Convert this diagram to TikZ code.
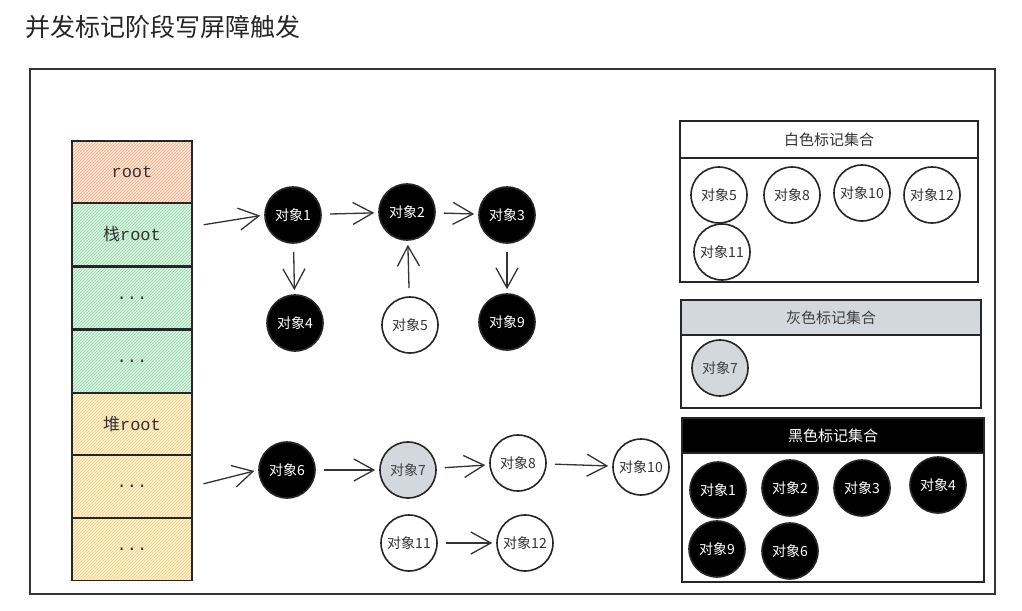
\documentclass[tikz,border=0pt]{standalone}
\usepackage{fontspec}
\setmainfont{Noto Sans CJK SC}
\newfontfamily\monof{Liberation Mono}
\usetikzlibrary{arrows.meta,patterns,calc}
\definecolor{orhatch}{HTML}{F2A97E}
\definecolor{orbg}{HTML}{FCE6D8}
\definecolor{grhatch}{HTML}{8ED7A6}
\definecolor{grbg}{HTML}{DDF3E3}
\definecolor{yehatch}{HTML}{F6CC78}
\definecolor{yebg}{HTML}{FDF0D3}
\definecolor{graynode}{HTML}{D3D7DE}
\tikzset{
  cell/.style={draw=black!85, line width=1.6pt, minimum width=120pt, minimum height=62pt, inner sep=0pt, font=\monof\fontsize{17}{17}\selectfont, text=black!80},
  orcell/.style={cell, preaction={fill=orbg}, pattern=north east lines, pattern color=orhatch},
  grcell/.style={cell, preaction={fill=grbg}, pattern=north east lines, pattern color=grhatch},
  yecell/.style={cell, preaction={fill=yebg}, pattern=north east lines, pattern color=yehatch},
  obj/.style={circle, draw=black!85, line width=1.6pt, minimum size=56pt, inner sep=0pt, font=\fontsize{14}{14}\selectfont},
  bobj/.style={obj, fill=black, text=white},
  wobj/.style={obj, fill=white, text=black!80},
  gobj/.style={obj, fill=graynode, text=black!75},
  arr/.style={line width=1.3pt, draw=black!80, shorten <=8pt, shorten >=4pt, arrows={-Straight Barb[length=20pt,width=22pt]}},
  panel/.style={draw=black!85, line width=1.5pt},
  header/.style={draw=black!85, line width=1.5pt, inner sep=0pt, font=\fontsize{15}{15}\selectfont},
}
\begin{document}
\begin{tikzpicture}[x=1pt,y=-1pt]
\useasboundingbox (0,0) rectangle (1022,610);
\fill[white] (0,0) rectangle (1022,610);
% title
\node[anchor=west, font=\fontsize{25}{25}\selectfont, text=black!85] (title) at (22,27) {并发标记阶段写屏障触发};
% outer frame
\draw[line width=1.6pt, draw=black!80] (30,69) rectangle (995,594);
% stack
\node[orcell] (s1) at (132,172) {root};
\node[grcell] (s2) at (132,234.5) {{\rmfamily 栈}root};
\node[grcell] (s3) at (132,298) {...};
\node[grcell] (s4) at (132,361.5) {...};
\node[yecell] (s5) at (132,424) {{\rmfamily 堆}root};
\node[yecell] (s6) at (132,486.5) {...};
\node[yecell] (s7) at (132,549.5) {...};
% object graph
\node[bobj] (o1) at (293,215) {对象1};
\node[bobj] (o2) at (407,212) {对象2};
\node[bobj] (o3) at (507,215) {对象3};
\node[bobj] (o4) at (295,323) {对象4};
\node[wobj] (o5) at (410,325) {对象5};
\node[bobj] (o9) at (507,322) {对象9};
\node[bobj] (o6) at (287,470) {对象6};
\node[gobj] (o7) at (408,470) {对象7};
\node[wobj] (o8) at (518,463) {对象8};
\node[wobj] (o10) at (641,467) {对象10};
\node[wobj] (o11) at (409,543) {对象11};
\node[wobj] (o12) at (525,543) {对象12};
\draw[arr, shorten <=11pt] ([yshift=8pt]s2.east) -- (o1.west);
\draw[arr, shorten <=11pt] (s6.east) -- (o6.west);
\draw[arr] (o1) -- (o2);
\draw[arr] (o2) -- (o3);
\draw[arr] (o1) -- (o4);
\draw[arr] (o5) -- (o2);
\draw[arr] (o3) -- (o9);
\draw[arr] (o6) -- (o7);
\draw[arr] (o7) -- (o8);
\draw[arr] (o8) -- (o10);
\draw[arr] (o11) -- (o12);
% white set
\draw[panel] (680,121) rectangle (978,282);
\node[header, fill=white, minimum width=298pt, minimum height=37pt, text=black!80] (hw) at (829,139.5) {白色标记集合};
\node[wobj] (w5) at (719,195) {对象5};
\node[wobj] (w8) at (792,195) {对象8};
\node[wobj] (w10) at (862,193) {对象10};
\node[wobj] (w12) at (932,195) {对象12};
\node[wobj] (w11) at (722,252) {对象11};
% gray set
\draw[panel] (681,300) rectangle (981,408);
\node[header, fill=graynode, minimum width=300pt, minimum height=35pt, text=black!75] (hg) at (831,317.5) {灰色标记集合};
\node[gobj] (g7) at (720,368) {对象7};
% black set
\draw[panel] (682,418) rectangle (984,582);
\node[header, fill=black, minimum width=302pt, minimum height=35pt, text=white] (hb) at (833,435.5) {黑色标记集合};
\node[bobj] (b1) at (718,490) {对象1};
\node[bobj] (b2) at (790,488) {对象2};
\node[bobj] (b3) at (862,488) {对象3};
\node[bobj] (b4) at (938,485) {对象4};
\node[bobj] (b9) at (717,549) {对象9};
\node[bobj] (b6) at (790,551) {对象6};
\end{tikzpicture}
\end{document}
